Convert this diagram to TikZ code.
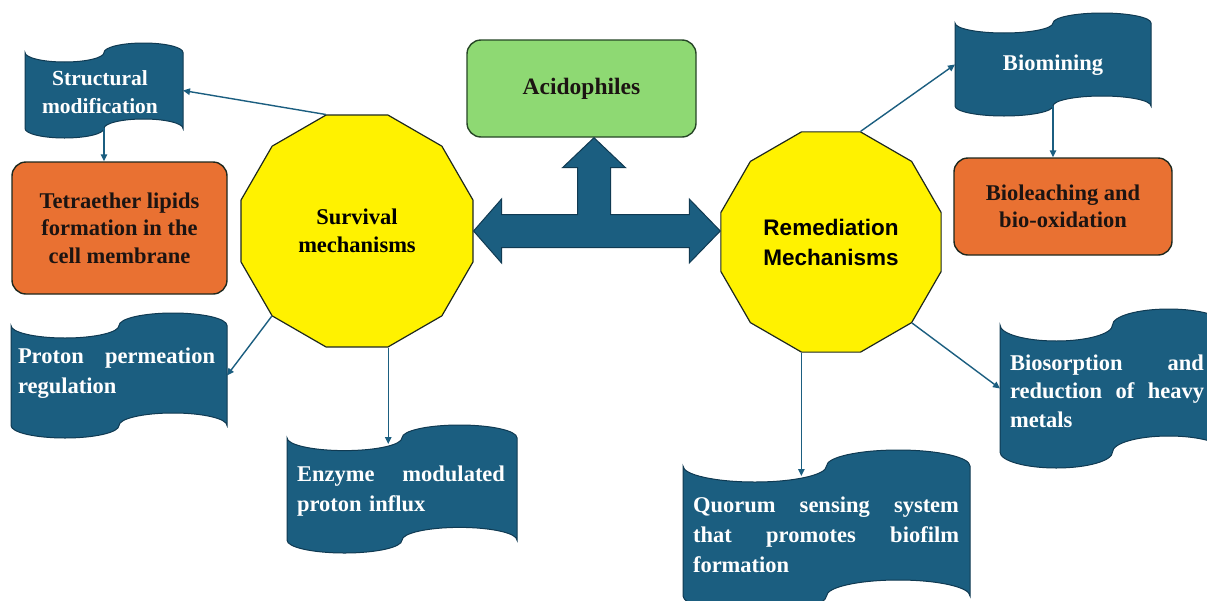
\documentclass[tikz,border=0pt]{standalone}
\usepackage{fontspec}
\setmainfont{Liberation Serif}
\newfontfamily\sansfam{Liberation Sans}
\usetikzlibrary{shapes.geometric,arrows.meta,calc}
\definecolor{tapeblue}{RGB}{27,94,128}
\definecolor{tapeedge}{RGB}{16,58,82}
\definecolor{boxorange}{RGB}{233,113,50}
\definecolor{boxgreen}{RGB}{142,217,115}
\definecolor{greenedge}{RGB}{38,70,38}
\definecolor{darkline}{RGB}{30,40,30}
\definecolor{txtdark}{RGB}{28,20,18}
\newcommand{\jl}[2]{\leavevmode\hbox to #1{#2}}
\newcommand{\tapeshape}[6]{% #1 name, #2 x0, #3 y0, #4 w, #5 h, #6 amplitude
 \begin{scope}[shift={(#2,#3)}]
  \pgfmathsetmacro\tpq{#4/4}
  \pgfmathsetmacro\tpa{#6}
  \pgfmathsetmacro\tpk{0.5523}
  \filldraw[tapestyle] (0,\tpa) .. controls (0,{\tpa+\tpk*\tpa}) and ({\tpq-\tpk*\tpq},{2*\tpa}) .. (\tpq,{2*\tpa})
   .. controls ({\tpq+\tpk*\tpq},{2*\tpa}) and ({2*\tpq},{\tpa+\tpk*\tpa}) .. ({2*\tpq},\tpa)
   .. controls ({2*\tpq},{\tpa-\tpk*\tpa}) and ({3*\tpq-\tpk*\tpq},0) .. ({3*\tpq},0)
   .. controls ({3*\tpq+\tpk*\tpq},0) and ({4*\tpq},{\tpa-\tpk*\tpa}) .. ({4*\tpq},\tpa)
   -- ({4*\tpq},{#5-\tpa})
   .. controls ({4*\tpq},{#5-\tpa-\tpk*\tpa}) and ({3*\tpq+\tpk*\tpq},{#5-2*\tpa}) .. ({3*\tpq},{#5-2*\tpa})
   .. controls ({3*\tpq-\tpk*\tpq},{#5-2*\tpa}) and ({2*\tpq},{#5-\tpa-\tpk*\tpa}) .. ({2*\tpq},{#5-\tpa})
   .. controls ({2*\tpq},{#5-\tpa+\tpk*\tpa}) and ({\tpq+\tpk*\tpq},#5) .. (\tpq,#5)
   .. controls ({\tpq-\tpk*\tpq},#5) and (0,{#5-\tpa+\tpk*\tpa}) .. (0,{#5-\tpa}) -- cycle;
  \node[minimum width=#4pt, minimum height=#5pt, inner sep=0pt, outer sep=0pt, anchor=north west] (#1) at (0,0) {};
 \end{scope}}
\begin{document}
\begin{tikzpicture}[x=1pt,y=-1pt,
  tapestyle/.style={fill=tapeblue,draw=tapeedge,line width=1pt},
  tapetext/.style={text=white,font=\bfseries\fontsize{22.5}{30}\selectfont,align=left,inner sep=0pt},
  poly/.style={regular polygon,regular polygon sides=12,fill=yellow,draw=darkline,line width=1.2pt,align=center,inner sep=2pt},
  rbox/.style={rounded corners=14pt,line width=1.4pt,align=center,text=txtdark,font=\bfseries\fontsize{22.5}{27.5}\selectfont},
  conn/.style={draw=tapeblue,line width=1.4pt,-{Triangle[length=7pt,width=6.5pt]}},
  bigarrow/.style={fill=tapeblue,draw=tapeedge,line width=1pt}]
\fill[white] (0,0) rectangle (1207,600);
\clip (0,0) rectangle (1207,600);

% central nodes
\node[poly,minimum size=240pt,font=\bfseries\fontsize{22.5}{27.5}\selectfont] (surv) at (357,231) {Survival\\mechanisms};
\node[poly,minimum size=228pt,font=\sansfam\bfseries\fontsize{22.5}{30}\selectfont] (rem) at (831,242) {Remediation\\Mechanisms};
\node[rbox,fill=boxgreen,draw=greenedge,minimum width=229pt,minimum height=97pt,font=\bfseries\fontsize{23.5}{28}\selectfont] (acid) at (581.5,88.5) {Acidophiles};
\node[rbox,fill=boxorange,draw=darkline,minimum width=215pt,minimum height=132pt] (tetra) at (119.5,228) {Tetraether lipids\\formation in the\\cell membrane};
\node[rbox,fill=boxorange,draw=darkline,minimum width=218pt,minimum height=97pt] (bioleach) at (1063,206.5) {Bioleaching and\\bio-oxidation};

% wave boxes
\tapeshape{struct}{25}{43}{158}{95}{9.5}
\tapeshape{proton}{11}{313}{216}{125}{12.5}
\tapeshape{enz}{287}{425}{230}{128}{12.8}
\tapeshape{biomin}{955}{13}{196}{103}{10}
\tapeshape{biosorp}{1000}{309}{225}{159}{16}
\tapeshape{quorum}{683}{450}{287}{162}{16}

\node[tapetext,align=center,font=\bfseries\fontsize{21.5}{28}\selectfont] (struct-t) at (100,92) {Structural\\modification};
\node[tapetext,text width=197pt] (proton-t) at (116.5,373) {\jl{197pt}{Proton\hfill permeation}\\regulation};
\node[tapetext,text width=208pt] (enz-t) at (401,491) {\jl{208pt}{Enzyme\hfill modulated}\\proton influx};
\node[tapetext,align=center] (biomin-t) at (1053,65) {Biomining};
\node[tapetext,text width=194pt,font=\bfseries\fontsize{22.5}{28.5}\selectfont] (biosorp-t) at (1107,391) {\jl{194pt}{Biosorption\hfill and}\\\jl{194pt}{reduction\hfill of\hfill heavy}\\metals};
\node[tapetext,text width=266pt] (quorum-t) at (826,535) {\jl{266pt}{Quorum\hfill sensing\hfill system}\\\jl{266pt}{that\hfill promotes\hfill biofilm}\\formation};

% block arrow
\coordinate (tipL) at (surv.east);
\coordinate (tipR) at (rem.west |- tipL);
\coordinate (tipU) at ($(acid.south)+(12.5,0)$);
\filldraw[bigarrow] (tipL) -- ($(tipL)+(28,-32)$) -- ($(tipL)+(28,-16.5)$)
  -- ($(tipU |- tipL)+(-16.5,-16.5)$) -- ($(tipU)+(-16.5,30)$) -- ($(tipU)+(-31.5,30)$)
  -- (tipU) -- ($(tipU)+(31.5,30)$) -- ($(tipU)+(16.5,30)$)
  -- ($(tipU |- tipL)+(16.5,-16.5)$) -- ($(tipR)+(-31,-16.5)$) -- ($(tipR)+(-31,-32)$)
  -- (tipR) -- ($(tipR)+(-31,32)$) -- ($(tipR)+(-31,16.5)$)
  -- ($(tipL)+(28,16.5)$) -- ($(tipL)+(28,32)$) -- cycle;

% connectors
\draw[conn] (surv.105) -- (struct.east);
\draw[conn] ($(struct.south)+(0,-10)$) -- (struct.south |- tetra.north);
\draw[conn] (surv.225) -- (proton.east);
\draw[conn] (surv.285) -- ($(surv.285 |- enz.north)+(0,19)$);
\draw[conn] (rem.75) -- (biomin.west);
\draw[conn] ($(biomin.south)+(0,-10)$) -- (biomin.south |- bioleach.north);
\draw[conn] (rem.315) -- (biosorp.west);
\draw[conn] (rem.255) -- ($(rem.255 |- quorum.north)+(0,26)$);
\end{tikzpicture}
\end{document}
